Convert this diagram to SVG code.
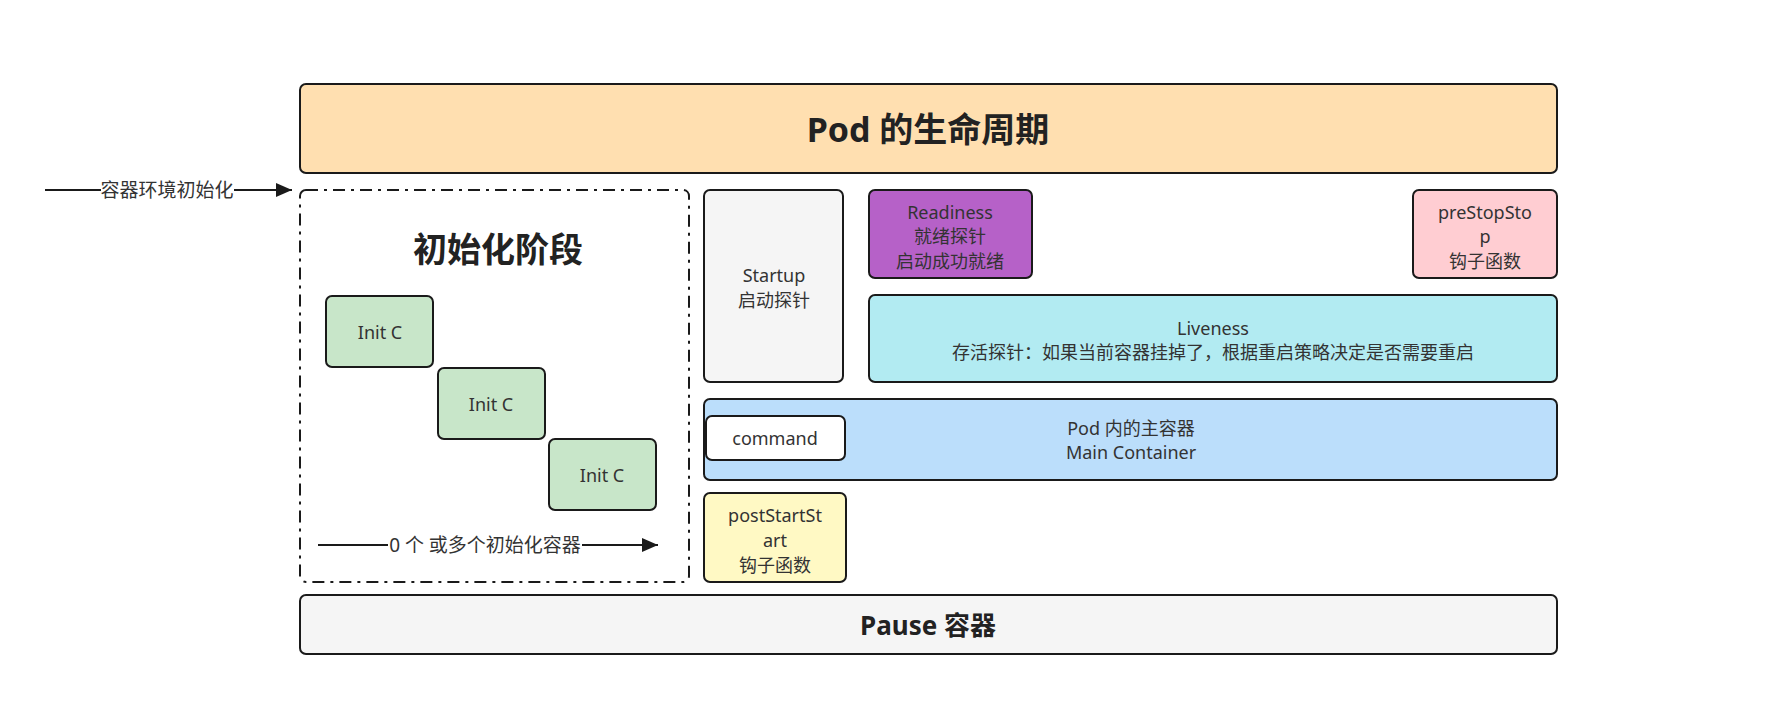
<svg xmlns="http://www.w3.org/2000/svg" width="1774" height="712" viewBox="0 0 1774 712">
<style>
  .box{stroke:#1a1a1a;stroke-width:2}
  .t{font-family:"Noto Sans","Noto Sans CJK SC",sans-serif;font-size:18px;fill:#333;text-anchor:middle;dominant-baseline:central}
  .b{font-family:"Noto Sans","Noto Sans CJK SC",sans-serif;font-weight:bold;fill:#222;text-anchor:middle;dominant-baseline:central}
  .ln{stroke:#1a1a1a;stroke-width:2;fill:none}
  .lbl{font-size:19px}
</style>
<defs>
  <marker id="arr" viewBox="0 0 16 14" refX="16" refY="7" markerWidth="16" markerHeight="14" markerUnits="userSpaceOnUse" orient="auto">
    <path d="M0,0 L16,7 L0,14 Z" fill="#1a1a1a"/>
  </marker>
</defs>
<rect width="1774" height="712" fill="#fff"/>
<g id="pod-lifecycle">
  <rect class="box" x="300" y="84" width="1257" height="89" rx="6" fill="#ffdfb0"/>
  <text class="b" x="928" y="129" font-size="34">Pod 的生命周期</text>
</g>
<g id="init-phase">
  <rect x="300" y="190" width="389" height="392" rx="6" fill="none" stroke="#1a1a1a" stroke-width="2" stroke-dasharray="12 6 3 6"/>
  <text class="b" x="498" y="249" font-size="34">初始化阶段</text>
</g>
<g id="init1">
  <rect class="box" x="326" y="296" width="107" height="71" rx="6" fill="#c8e6c9"/>
  <text class="t" x="380" y="332">Init C</text>
</g>
<g id="init2">
  <rect class="box" x="438" y="368" width="107" height="71" rx="6" fill="#c8e6c9"/>
  <text class="t" x="491" y="404">Init C</text>
</g>
<g id="init3">
  <rect class="box" x="549" y="439" width="107" height="71" rx="6" fill="#c8e6c9"/>
  <text class="t" x="602" y="475">Init C</text>
</g>
<g id="startup">
  <rect class="box" x="704" y="190" width="139" height="192" rx="6" fill="#f5f5f5"/>
  <text class="t" x="774" y="275">Startup</text>
  <text class="t" x="774" y="300">启动探针</text>
</g>
<g id="readiness">
  <rect class="box" x="869" y="190" width="163" height="88" rx="6" fill="#b661c8"/>
  <text class="t" x="950" y="212">Readiness</text>
  <text class="t" x="950" y="236">就绪探针</text>
  <text class="t" x="950" y="261">启动成功就绪</text>
</g>
<g id="prestop">
  <rect class="box" x="1413" y="190" width="144" height="88" rx="6" fill="#ffcdd2"/>
  <text class="t" x="1485" y="212">preStopSto</text>
  <text class="t" x="1485" y="236">p</text>
  <text class="t" x="1485" y="261">钩子函数</text>
</g>
<g id="liveness">
  <rect class="box" x="869" y="295" width="688" height="87" rx="6" fill="#b2ebf2"/>
  <text class="t" x="1213" y="328">Liveness</text>
  <text class="t" x="1213" y="352">存活探针：如果当前容器挂掉了，根据重启策略决定是否需要重启</text>
</g>
<g id="main-container">
  <rect class="box" x="704" y="399" width="853" height="81" rx="6" fill="#bbdefb"/>
  <text class="t" x="1131" y="428">Pod 内的主容器</text>
  <text class="t" x="1131" y="452">Main Container</text>
</g>
<g id="command">
  <rect class="box" x="706" y="416" width="139" height="44" rx="6" fill="#fff"/>
  <text class="t" x="775" y="438">command</text>
</g>
<g id="poststart">
  <rect class="box" x="704" y="493" width="142" height="89" rx="6" fill="#fff9c4"/>
  <text class="t" x="775" y="515">postStartSt</text>
  <text class="t" x="775" y="540">art</text>
  <text class="t" x="775" y="565">钩子函数</text>
</g>
<g id="pause">
  <rect class="box" x="300" y="595" width="1257" height="59" rx="6" fill="#f5f5f5"/>
  <text class="b" x="928" y="625" font-size="26">Pause 容器</text>
</g>
<g id="connectors">
  <line class="ln" x1="45" y1="190" x2="292" y2="190" marker-end="url(#arr)"/>
  <rect x="101" y="178" width="133" height="24" fill="#fff"/>
  <text class="t lbl" x="167" y="190">容器环境初始化</text>
  <line class="ln" x1="318" y1="545" x2="658" y2="545" marker-end="url(#arr)"/>
  <rect x="388" y="533" width="194" height="24" fill="#fff"/>
  <text class="t lbl" x="485" y="545">0 个 或多个初始化容器</text>
</g>
</svg>
